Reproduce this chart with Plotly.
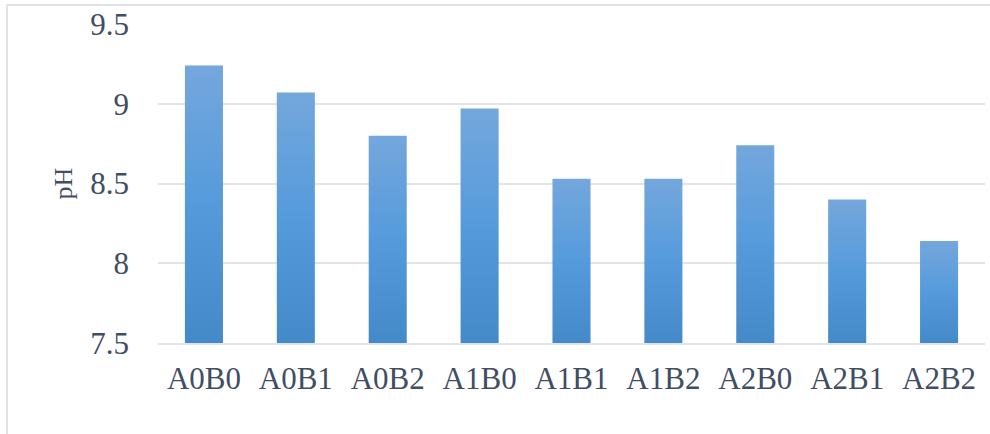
import plotly.graph_objects as go

# Treatment groups and measured pH
categories = ["A0B0", "A0B1", "A0B2", "A1B0", "A1B1", "A1B2", "A2B0", "A2B1", "A2B2"]
ph_values = [9.24, 9.07, 8.80, 8.97, 8.53, 8.53, 8.74, 8.40, 8.14]
y_ticks = [7.5, 8, 8.5, 9, 9.5]
y_tick_labels = ["7.5", "8", "8.5", "9", "9.5"]

Y_MIN, Y_MAX = 7.5, 9.5
BAR_WIDTH = 0.414
TEXT_COLOR = "#3f4e64"
GRID_COLOR = "#e1e4e9"
FONT = "'Liberation Serif', 'Times New Roman', serif"

fig = go.Figure()

# Each column is a filled polygon so it can carry a vertical gradient
for i, (cat, val) in enumerate(zip(categories, ph_values)):
    x0, x1 = i - BAR_WIDTH / 2, i + BAR_WIDTH / 2
    fig.add_trace(go.Scatter(
        x=[x0, x1, x1, x0, x0],
        y=[Y_MIN, Y_MIN, val, val, Y_MIN],
        mode="lines",
        line=dict(width=0),
        fill="toself",
        fillgradient=dict(
            type="vertical",
            colorscale=[[0, "#4489c8"], [0.5, "#559bdc"], [1, "#74a7dc"]],
        ),
        name=cat,
        hovertemplate=f"{cat}: {val}<extra></extra>",
        showlegend=False,
    ))

fig.update_layout(
    width=990,
    height=434,
    margin=dict(l=158, r=5, t=24, b=91),
    paper_bgcolor="white",
    plot_bgcolor="white",
    font=dict(family=FONT, color=TEXT_COLOR),
    showlegend=False,
)

fig.update_xaxes(
    range=[-0.5, len(categories) - 0.5],
    tickmode="array",
    tickvals=list(range(len(categories))),
    ticktext=categories,
    tickfont=dict(size=31, family=FONT, color=TEXT_COLOR),
    showgrid=False,
    zeroline=False,
    showline=True,
    linecolor=GRID_COLOR,
    linewidth=2,
    ticks="",
    ticklabelstandoff=7,
)

fig.update_yaxes(
    range=[Y_MIN, Y_MAX],
    tickmode="array",
    tickvals=y_ticks,
    ticktext=y_tick_labels,
    tickfont=dict(size=31, family=FONT, color=TEXT_COLOR),
    showgrid=True,
    gridcolor=GRID_COLOR,
    gridwidth=2,
    zeroline=False,
    showline=False,
    ticks="",
    ticklabelstandoff=28,
    title=dict(text="pH", font=dict(size=26, family=FONT, color=TEXT_COLOR), standoff=10),
)

# Light outer frame around the chart area
fig.add_shape(
    type="rect", xref="paper", yref="paper",
    x0=(7 - 158) / 827, x1=1.05,
    y0=-0.5, y1=1 + (24 - 5) / 319,
    line=dict(color="#dfe2e7", width=2),
    fillcolor="rgba(0,0,0,0)",
    layer="below",
)

fig.write_html("out.html")
